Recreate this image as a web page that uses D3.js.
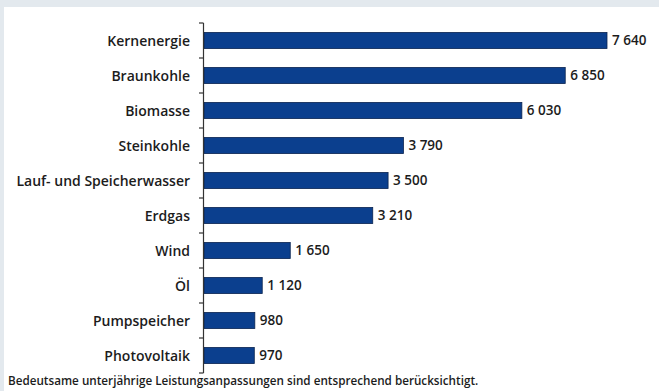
<!DOCTYPE html>
<html>
<head>
<meta charset="utf-8">
<script src="https://cdn.jsdelivr.net/npm/d3@7"></script>
<style>
  html, body { margin: 0; padding: 0; background: #e3e9ee; }
  svg { display: block; }
  text { font-family: "Open Sans", sans-serif; fill: #1c1c1c; font-weight: 600; }
</style>
</head>
<body>
<svg id="chart" width="659" height="391"></svg>
<script>
// Installierte Leistung nach Energieträger (MW)
const categories = ["Kernenergie", "Braunkohle", "Biomasse", "Steinkohle",
  "Lauf- und Speicherwasser", "Erdgas", "Wind", "Öl", "Pumpspeicher", "Photovoltaik"];
const values = [7640, 6850, 6030, 3790, 3500, 3210, 1650, 1120, 980, 970];
const valueLabels = ["7 640", "6 850", "6 030", "3 790", "3 500", "3 210", "1 650", "1 120", "980", "970"];
const footnote = "Bedeutsame unterjährige Leistungsanpassungen sind entsprechend berücksichtigt.";

const W = 659, H = 391;
const svg = d3.select("#chart");

// white panel on the grey page
svg.append("rect").attr("x", 4).attr("y", 7).attr("width", W - 4).attr("height", H - 7).attr("fill", "#fff");

const x0 = 203, yTop = 23, yBottom = 373;
const x = d3.scaleLinear().domain([0, 7640]).range([x0, 607]);
const y = d3.scaleBand().domain(categories).range([yTop, yBottom]).paddingInner(0.54).paddingOuter(0.27);

// bars
svg.append("g").selectAll("rect").data(categories).join("rect")
  .attr("x", x(0) + 1)
  .attr("y", d => y(d))
  .attr("width", (d, i) => x(values[i]) - x(0) - 1)
  .attr("height", y.bandwidth())
  .attr("fill", "#0b3f8e")
  .attr("stroke", "#0a2450")
  .attr("stroke-width", 0.8);

// category axis with ticks between the bands
const band = (yBottom - yTop) / categories.length;
const ax = svg.append("g");
ax.append("line").attr("x1", x0 + 0.5).attr("x2", x0 + 0.5).attr("y1", yTop).attr("y2", yBottom)
  .attr("stroke", "#333").attr("stroke-width", 1.2);
ax.selectAll("line.tick").data(d3.range(categories.length + 1)).join("line")
  .attr("class", "tick")
  .attr("x1", x0 - 4).attr("x2", x0 + 0.5)
  .attr("y1", i => yTop + i * band).attr("y2", i => yTop + i * band)
  .attr("stroke", "#333").attr("stroke-width", 1.2);

// category labels
svg.append("g").selectAll("text").data(categories).join("text")
  .attr("x", 190)
  .attr("y", d => y(d) + y.bandwidth() / 2)
  .attr("dy", "0.36em")
  .attr("text-anchor", "end")
  .attr("font-size", 14)
  .text(d => d);

// value labels
svg.append("g").selectAll("text").data(categories).join("text")
  .attr("x", (d, i) => x(values[i]) + 5)
  .attr("y", d => y(d) + y.bandwidth() / 2)
  .attr("dy", "0.36em")
  .attr("font-size", 13.5)
  .text((d, i) => valueLabels[i]);

// footnote
svg.append("text").attr("x", 8).attr("y", 385).attr("font-size", 11.7).text(footnote);
</script>
</body>
</html>
